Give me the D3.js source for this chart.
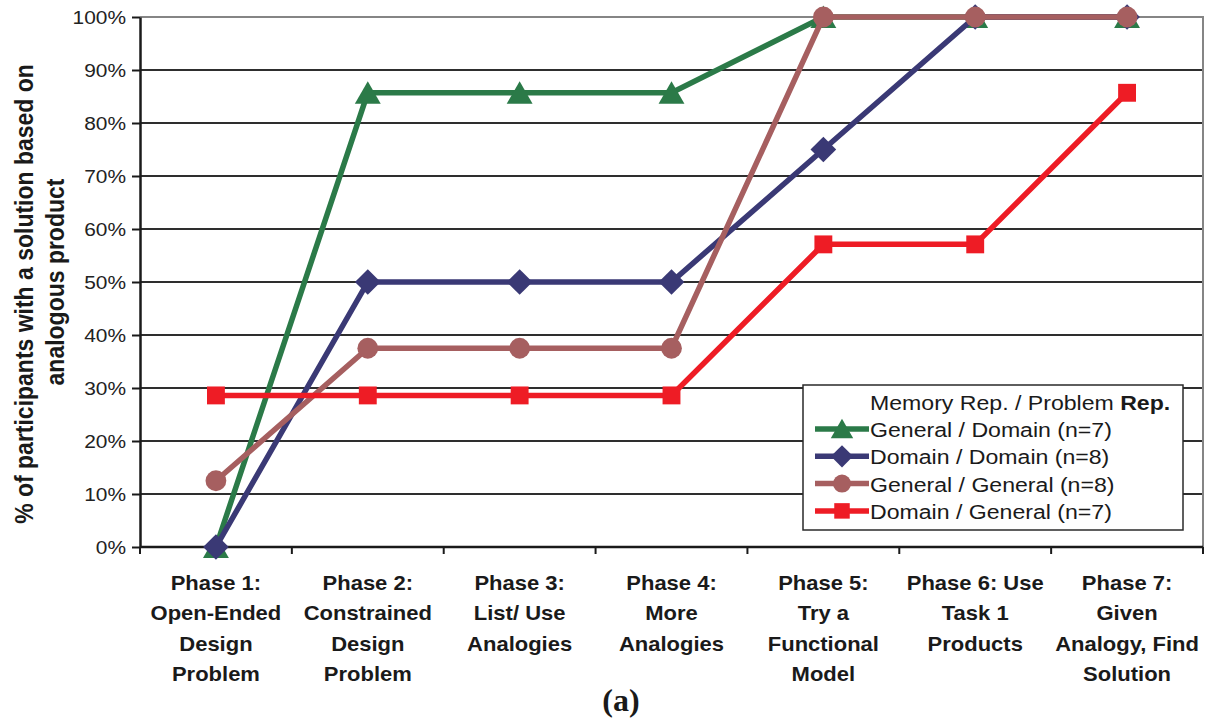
<!DOCTYPE html>
<html>
<head>
<meta charset="utf-8">
<script src="https://cdn.jsdelivr.net/npm/d3@7"></script>
<style>
  html, body { margin: 0; padding: 0; background: #fff; }
  svg { display: block; font-family: "Liberation Sans", Arial, sans-serif; }
</style>
</head>
<body>
<svg id="chart" width="1207" height="719"></svg>
<script>
// Phases along the x axis (each label split into display lines)
const phases = [
  ["Phase 1:", "Open-Ended", "Design", "Problem"],
  ["Phase 2:", "Constrained", "Design", "Problem"],
  ["Phase 3:", "List/ Use", "Analogies"],
  ["Phase 4:", "More", "Analogies"],
  ["Phase 5:", "Try a", "Functional", "Model"],
  ["Phase 6: Use", "Task 1", "Products"],
  ["Phase 7:", "Given", "Analogy, Find", "Solution"]
];

// Percent of participants per phase for each group
const generalDomain  = [0, 85.7, 85.7, 85.7, 100, 100, 100];
const domainDomain   = [0, 50, 50, 50, 75, 100, 100];
const generalGeneral = [12.5, 37.5, 37.5, 37.5, 100, 100, 100];
const domainGeneral  = [28.6, 28.6, 28.6, 28.6, 57.1, 57.1, 85.7];

const yTicks = [0, 10, 20, 30, 40, 50, 60, 70, 80, 90, 100];

const seriesNames = [
  "General / Domain (n=7)",
  "Domain / Domain (n=8)",
  "General / General (n=8)",
  "Domain / General (n=7)"
];

const series = [
  { name: seriesNames[0], values: generalDomain,  color: "#2b7a48", symbol: d3.symbolTriangle, size: 290, dy: 3.5 },
  { name: seriesNames[1], values: domainDomain,   color: "#3a3975", symbol: d3.symbolDiamond2, size: 420, dy: 0 },
  { name: seriesNames[2], values: generalGeneral, color: "#a65f60", symbol: d3.symbolCircle,   size: 340, dy: 0 },
  { name: seriesNames[3], values: domainGeneral,  color: "#ee1c25", symbol: d3.symbolSquare,   size: 320, dy: 0 }
];

// Text is set slightly wide, as in the printed figure
const SX = 1.1;

const svg = d3.select("#chart");
const plot = { left: 140, right: 1203, top: 17, bottom: 547 };

const x = d3.scaleBand()
  .domain(d3.range(phases.length))
  .range([plot.left, plot.right]);

const y = d3.scaleLinear()
  .domain([0, 100])
  .range([plot.bottom, plot.top]);

const cx = i => x(i) + x.bandwidth() / 2;

// Horizontal gridlines
svg.append("g")
  .selectAll("line")
  .data(yTicks.filter(t => t > 0 && t < 100))
  .join("line")
  .attr("x1", plot.left).attr("x2", plot.right)
  .attr("y1", d => y(d)).attr("y2", d => y(d))
  .attr("stroke", "#2e2e2e").attr("stroke-width", 2);

// Plot area border on top and right
svg.append("path")
  .attr("d", `M${plot.left},${y(100)}H${plot.right}V${plot.bottom}`)
  .attr("fill", "none").attr("stroke", "#858585").attr("stroke-width", 2);

// Y axis
const yAxis = svg.append("g")
  .attr("transform", `translate(${plot.left},0)`)
  .call(d3.axisLeft(y).tickValues(yTicks).tickFormat(d => d + "%").tickSize(8).tickSizeOuter(0));
yAxis.select(".domain").attr("stroke", "#1a1a1a").attr("stroke-width", 2.5);
yAxis.selectAll(".tick line").attr("stroke", "#1a1a1a").attr("stroke-width", 2);
yAxis.selectAll(".tick text")
  .attr("x", -14 / SX)
  .attr("transform", `scale(${SX},1)`)
  .attr("font-size", 19)
  .attr("fill", "#222")
  .attr("font-family", "Liberation Sans, Arial, sans-serif");

// X axis with ticks between categories
const xAxis = svg.append("g").attr("transform", `translate(0,${plot.bottom})`);
xAxis.append("line")
  .attr("x1", plot.left).attr("x2", plot.right)
  .attr("stroke", "#1a1a1a").attr("stroke-width", 2.5);
xAxis.selectAll("line.tk")
  .data(d3.range(phases.length + 1))
  .join("line").attr("class", "tk")
  .attr("x1", i => plot.left + i * x.step()).attr("x2", i => plot.left + i * x.step())
  .attr("y1", 0).attr("y2", 7)
  .attr("stroke", "#1a1a1a").attr("stroke-width", 2);

// Category labels
svg.append("g")
  .selectAll("g")
  .data(phases)
  .join("g")
  .attr("transform", (d, i) => `translate(${cx(i)},0) scale(${SX},1)`)
  .each(function(lines) {
    d3.select(this).append("text")
      .attr("text-anchor", "middle")
      .attr("font-size", 20)
      .attr("font-weight", "bold")
      .attr("fill", "#1a1a1a")
      .selectAll("tspan")
      .data(lines)
      .join("tspan")
      .attr("x", 0)
      .attr("y", (d, j) => 590 + j * 30.5)
      .text(d => d);
  });

// Y axis title (two lines, rotated)
const yTitleLines = [
  { text: "% of participants with a solution based on", base: 33, mid: 294 },
  { text: "analogous product", base: 64, mid: 282 }
];
svg.append("g")
  .selectAll("text")
  .data(yTitleLines)
  .join("text")
  .attr("transform", d => `translate(${d.base},${d.mid}) rotate(-90) scale(1,${SX})`)
  .attr("text-anchor", "middle")
  .attr("font-size", 23)
  .attr("font-weight", "bold")
  .attr("fill", "#1a1a1a")
  .text(d => d.text);

// Series lines and markers
const line = d3.line()
  .x((d, i) => cx(i))
  .y(d => y(d));

series.forEach(s => {
  const g = svg.append("g");
  g.append("path")
    .attr("d", line(s.values))
    .attr("fill", "none")
    .attr("stroke", s.color)
    .attr("stroke-width", 5.5)
    .attr("stroke-linejoin", "miter");
  g.selectAll("path.m")
    .data(s.values)
    .join("path").attr("class", "m")
    .attr("d", d3.symbol().type(s.symbol).size(s.size))
    .attr("transform", (d, i) => `translate(${cx(i)},${y(d) + s.dy})`)
    .attr("fill", s.color);
});

// Legend
const legend = svg.append("g").attr("transform", "translate(803,385)");
legend.append("rect")
  .attr("width", 380).attr("height", 145)
  .attr("fill", "#fff").attr("stroke", "#2a2a2a").attr("stroke-width", 1.5);
const lt = legend.append("text")
  .attr("transform", `translate(67,25) scale(${SX},1)`)
  .attr("font-size", 21).attr("fill", "#1a1a1a");
lt.append("tspan").text("Memory Rep. / Problem ");
lt.append("tspan").attr("font-weight", "bold").text("Rep.");

series.forEach((s, i) => {
  const ry = 44 + i * 27.3;
  legend.append("line")
    .attr("x1", 12).attr("x2", 66).attr("y1", ry).attr("y2", ry)
    .attr("stroke", s.color).attr("stroke-width", 5.5);
  legend.append("path")
    .attr("d", d3.symbol().type(s.symbol).size(s.size * 0.75))
    .attr("transform", `translate(39,${ry + s.dy * 0.8})`)
    .attr("fill", s.color);
  legend.append("text")
    .attr("transform", `translate(67,${ry + 8}) scale(${SX},1)`)
    .attr("font-size", 21).attr("fill", "#1a1a1a")
    .text(s.name);
});

// Panel label
svg.append("text")
  .attr("x", 621).attr("y", 711)
  .attr("text-anchor", "middle")
  .attr("font-family", "Liberation Serif, Times New Roman, serif")
  .attr("font-weight", "bold")
  .attr("font-size", 32)
  .attr("fill", "#1a1a1a")
  .text("(a)");
</script>
</body>
</html>
